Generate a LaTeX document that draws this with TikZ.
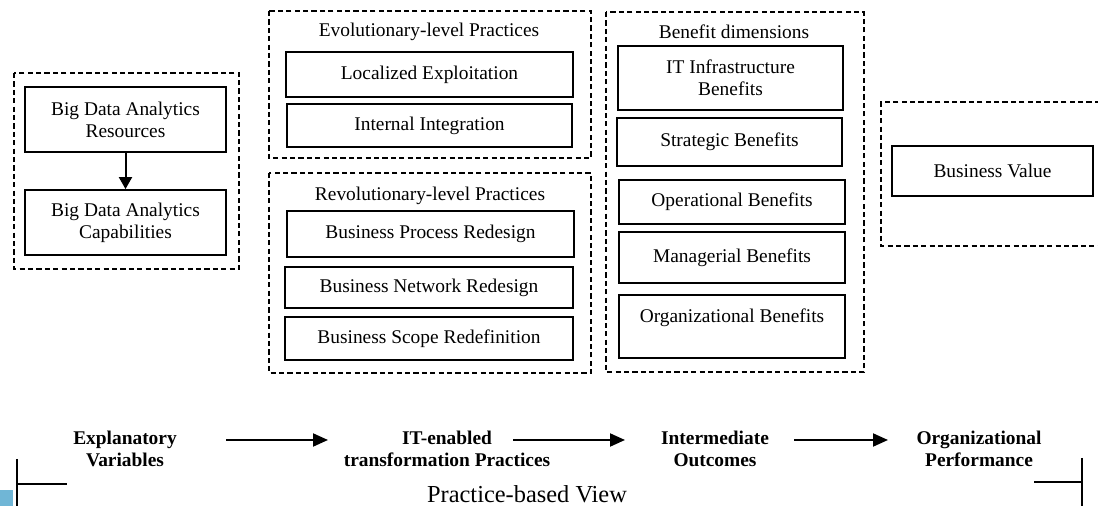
\documentclass[tikz,border=0pt]{standalone}
\usepackage{fontspec}
\setmainfont{Liberation Serif}
\usetikzlibrary{arrows.meta}
\definecolor{cornerblue}{RGB}{112,182,214}

\begin{document}
\begin{tikzpicture}[x=0.5pt, y=-0.5pt,
		every node/.style={font=\fontsize{9.7}{11}\selectfont, align=center, inner sep=0pt},
		box/.style={draw, line width=0.9pt, minimum width=#1},
		grp/.style={draw, dash pattern=on 2.6pt off 1.6pt, line width=0.75pt},
		stage/.style={font=\fontsize{9.7}{11}\selectfont\bfseries},
		arr/.style={-{Triangle[length=7.5pt, width=6.5pt]}, line width=1pt},
		brk/.style={line width=1pt}]
		\useasboundingbox (0,0) rectangle (1098,506);

		\draw[grp] (14,73) rectangle (239,269);
		\node[box=100.5pt, minimum height=32.5pt] (res) at (125.5,119.5) {Big Data Analytics\\Resources};
		\node[box=100.5pt, minimum height=32.5pt] (cap) at (125.5,222.5) {Big Data Analytics\\Capabilities};
		\draw[arr, -{Triangle[length=6pt, width=6.5pt]}] (res) -- (cap);

		\draw[grp] (269,11) rectangle (591,158);
		\node (evo) at (429,32) {Evolutionary-level Practices};
		\node[box=143.5pt, minimum height=22.5pt] (loc) at (429.5,74.5) {Localized Exploitation};
		\node[box=142.5pt, minimum height=21.5pt] (int) at (429.5,125.5) {Internal Integration};

		\draw[grp] (269,173) rectangle (591,373);
		\node (rev) at (430,196) {Revolutionary-level Practices};
		\node[box=143.5pt, minimum height=23pt] (bpr) at (430.5,234) {Business Process Redesign};
		\node[box=144pt, minimum height=20.5pt] (bnr) at (429,287.5) {Business Network Redesign};
		\node[box=144pt, minimum height=21.5pt] (bsr) at (429,338.5) {Business Scope Redefinition};

		\draw[grp] (606,12) rectangle (864,372);
		\node (ben) at (734,32) {Benefit dimensions};
		\node[box=112.5pt, minimum height=32pt] (itb) at (730.5,78) {IT Infrastructure\\Benefits};
		\node[box=112.5pt, minimum height=24pt] (stb) at (729.5,142) {Strategic Benefits};
		\node[box=113pt, minimum height=22pt] (opb) at (732,202) {Operational Benefits};
		\node[box=113pt, minimum height=25.5pt] (mgb) at (732,257.5) {Managerial Benefits};
		\node[box=113pt, minimum height=31.5pt] (orb) at (732,326.5) {Organizational Benefits\\\mbox{}};

		\draw[grp] (1100,102) -| (881,246) -- (1100,246);
		\node[box=100.5pt, minimum height=25pt] (bv) at (992.5,171) {Business Value};

		\node[stage] (expl) at (125,449) {Explanatory\\Variables};
		\node[stage] (itp) at (447,449) {IT-enabled\\transformation Practices};
		\node[stage] (inter) at (715,449) {Intermediate\\Outcomes};
		\node[stage] (orgp) at (979,449) {Organizational\\Performance};
		\draw[arr] ([shift={(101,-9)}]expl.center) -- ([shift={(-119,-9)}]itp.center);
		\draw[arr] ([shift={(66,-9)}]itp.center) -- ([shift={(-90,-9)}]inter.center);
		\draw[arr] ([shift={(79,-9)}]inter.center) -- ([shift={(-91,-9)}]orgp.center);

		\node[font=\fontsize{12.2}{14}\selectfont] (pbv) at (527,494) {Practice-based View};
		\draw[brk] (17,459) -- (17,506);
		\draw[brk] (17,484) -- (67,484);
		\draw[brk] (1082,458) -- (1082,506);
		\draw[brk] (1034,482) -- (1082,482);
		\fill[cornerblue] (0,490) rectangle (13,506);
	\end{tikzpicture}
\end{document}
